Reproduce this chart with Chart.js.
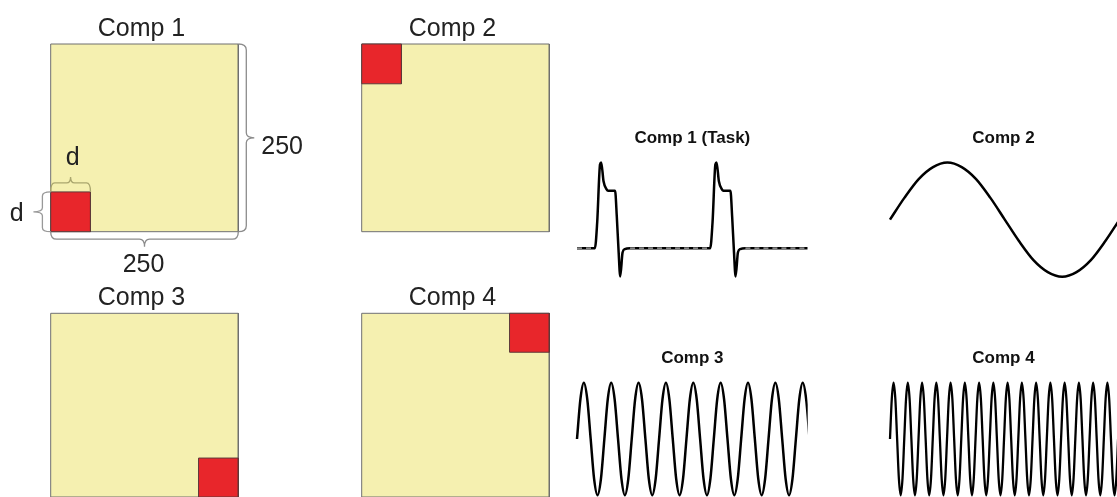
<!DOCTYPE html>
<html lang="en">
<head>
  <meta charset="UTF-8">
  <title>Components</title>
  <script src="https://cdn.jsdelivr.net/npm/chart.js"></script>
  <style>
    body { margin: 0; background: #fff; }
    #wrap { position: relative; width: 1117px; height: 497px; overflow: hidden; }
    #wrap canvas { position: absolute; left: 0; top: 0; }
  </style>
</head>
<body>
  <div id="wrap"></div>

  <script>
    // ---- data ----
    const squareSize = 250;
    const patchSize = 53; // d
    const squareTitles = ['Comp 1', 'Comp 2', 'Comp 3', 'Comp 4'];
    const patchX = [0, 0, 197, 197];
    const patchY = [0, 197, 0, 197];

    const waveTitles = ['Comp 1 (Task)', 'Comp 2', 'Comp 3', 'Comp 4'];

    // task time course (seconds, relative amplitude)
    const taskTime = [0, 15.5, 17.5, 20, 21, 23, 25.5, 27, 33, 34.5, 36, 37.5, 39.5, 41.5, 46,
                      115.5, 117.5, 120, 121, 123, 125.5, 127, 133, 134.5, 136, 137.5, 139.5, 141.5, 146, 200];
    const taskValue = [0, 0, 0.3, 0.98, 1, 0.78, 0.69, 0.67, 0.67, 0.37, -0.02, -0.33, -0.05, -0.01, 0,
                       0, 0.3, 0.98, 1, 0.78, 0.69, 0.67, 0.67, 0.37, -0.02, -0.33, -0.05, -0.01, 0, 0];
    // dashed rest level
    const restTime = [0, 15.5, 15.5, 46, 115.5, 115.5, 146, 200];
    const restValue = [0, 0, null, 0, 0, null, 0, 0];

    const comp2Step = 12.64;
    const comp2Value = [0, 0.38, 0.71, 0.92, 1, 0.92, 0.71, 0.38, 0, -0.38, -0.71, -0.92, -1, -0.92, -0.71, -0.38, 0];

    const comp3Step = 2.965;
    const comp3Value = [
      0, 0.71, 1, 0.71, 0, -0.71, -1, -0.71,
      0, 0.71, 1, 0.71, 0, -0.71, -1, -0.71,
      0, 0.71, 1, 0.71, 0, -0.71, -1, -0.71,
      0, 0.71, 1, 0.71, 0, -0.71, -1, -0.71,
      0, 0.71, 1, 0.71, 0, -0.71, -1, -0.71,
      0, 0.71, 1, 0.71, 0, -0.71, -1, -0.71,
      0, 0.71, 1, 0.71, 0, -0.71, -1, -0.71,
      0, 0.71, 1, 0.71, 0, -0.71, -1, -0.71,
      0, 0.71, 1, 0.71, 0
    ];

    const comp4Step = 1.57;
    const comp4Value = [
      0, 0.71, 1, 0.71, 0, -0.71, -1, -0.71,
      0, 0.71, 1, 0.71, 0, -0.71, -1, -0.71,
      0, 0.71, 1, 0.71, 0, -0.71, -1, -0.71,
      0, 0.71, 1, 0.71, 0, -0.71, -1, -0.71,
      0, 0.71, 1, 0.71, 0, -0.71, -1, -0.71,
      0, 0.71, 1, 0.71, 0, -0.71, -1, -0.71,
      0, 0.71, 1, 0.71, 0, -0.71, -1, -0.71,
      0, 0.71, 1, 0.71, 0, -0.71, -1, -0.71,
      0, 0.71, 1, 0.71, 0, -0.71, -1, -0.71,
      0, 0.71, 1, 0.71, 0, -0.71, -1, -0.71,
      0, 0.71, 1, 0.71, 0, -0.71, -1, -0.71,
      0, 0.71, 1, 0.71, 0, -0.71, -1, -0.71,
      0, 0.71, 1, 0.71, 0, -0.71, -1, -0.71,
      0, 0.71, 1, 0.71, 0, -0.71, -1, -0.71,
      0, 0.71, 1, 0.71, 0, -0.71, -1, -0.71,
      0, 0.71, 1, 0.71, 0, -0.71, -1, -0.71,
      0
    ];

    // ---- layout ----
    const W = 1117, H = 497;
    const FONT = '"Liberation Sans", Arial, Helvetica, sans-serif';
    const squareBoxes = [[50.7, 44, 238.3, 231.7], [361.7, 44, 549.3, 231.7],
                         [50.7, 313.3, 238.3, 501], [361.7, 313.3, 549.3, 501]];
    const waveBoxes = [[577, 162.5, 807.7, 276.7], [890, 162.5, 1120.7, 276.7],
                       [577, 382.7, 807.7, 495.3], [890, 382.7, 1120.7, 495.3]];

    const wrap = document.getElementById('wrap');

    function makeCanvas() {
      const c = document.createElement('canvas');
      c.width = W;
      c.height = H;
      wrap.appendChild(c);
      return c;
    }

    function padFor(box) {
      return { left: box[0], top: box[1], right: W - box[2], bottom: H - box[3] };
    }

    const titlePlugin = {
      id: 'panelTitle',
      afterDraw(chart, args, opts) {
        const a = chart.chartArea;
        const ctx = chart.ctx;
        ctx.save();
        ctx.font = opts.fontCss;
        ctx.fillStyle = opts.color;
        ctx.textAlign = 'center';
        ctx.textBaseline = 'alphabetic';
        ctx.fillText(opts.text, (a.left + a.right) / 2 + opts.dx, a.top - opts.dy);
        ctx.restore();
      }
    };

    // curly brace from (x1,y1) to (x2,y2), bulging along normal (nx,ny)
    function brace(ctx, x1, y1, x2, y2, nx, ny, h, tip, r, rt, color) {
      const L = Math.hypot(x2 - x1, y2 - y1);
      const tx = (x2 - x1) / L, ty = (y2 - y1) / L;
      const mx = (x1 + x2) / 2, my = (y1 + y2) / 2;
      const P = (bx, by, a, b) => [bx + tx * a + nx * b, by + ty * a + ny * b];
      ctx.save();
      ctx.strokeStyle = color;
      ctx.lineWidth = 1.3;
      ctx.beginPath();
      ctx.moveTo(x1, y1);
      let c = P(x1, y1, 0, h), e = P(x1, y1, r, h);
      ctx.quadraticCurveTo(c[0], c[1], e[0], e[1]);
      e = P(mx, my, -rt, h); ctx.lineTo(e[0], e[1]);
      c = P(mx, my, 0, h); e = P(mx, my, 0, h + tip);
      ctx.quadraticCurveTo(c[0], c[1], e[0], e[1]);
      e = P(mx, my, rt, h);
      ctx.quadraticCurveTo(c[0], c[1], e[0], e[1]);
      e = P(x2, y2, -r, h); ctx.lineTo(e[0], e[1]);
      c = P(x2, y2, 0, h);
      ctx.quadraticCurveTo(c[0], c[1], x2, y2);
      ctx.stroke();
      ctx.restore();
    }

    const bracePlugin = {
      id: 'sizeBraces',
      afterDraw(chart) {
        const ctx = chart.ctx;
        const xs = chart.scales.x, ys = chart.scales.y;
        const x0 = xs.getPixelForValue(0), x1 = xs.getPixelForValue(squareSize);
        const y0 = ys.getPixelForValue(0), y1 = ys.getPixelForValue(squareSize);
        const xd = xs.getPixelForValue(patchSize), yd = ys.getPixelForValue(patchSize);

        brace(ctx, x1, y1, x1, y0, 1, 0, 8, 8, 6, 5, '#8c8c8c');
        brace(ctx, x0, y0, x1, y0, 0, 1, 7.5, 7.5, 6, 5, '#8c8c8c');
        brace(ctx, x0, yd, xd, yd, 0, -1, 9, 6, 4, 4, '#aaa66e');
        brace(ctx, x0, yd, x0, y0, -1, 0, 8.3, 9, 4, 4, '#999999');

        ctx.save();
        ctx.fillStyle = '#222';
        ctx.font = '25px ' + FONT;
        ctx.textBaseline = 'alphabetic';
        ctx.textAlign = 'left';
        ctx.fillText(String(squareSize), x1 + 23, (y0 + y1) / 2 + 16);
        ctx.textAlign = 'center';
        ctx.fillText(String(squareSize), (x0 + x1) / 2 - 1, y0 + 40);
        ctx.fillText('d', (x0 + xd) / 2 + 2, yd - 27);
        ctx.fillText('d', x0 - 34, (yd + y0) / 2 + 9);
        ctx.restore();
      }
    };

    const hidden = { type: 'linear', display: false };
    const yellow = '#f5f0b0', red = '#e8262b';

    // ---- square panels ----
    squareTitles.forEach((title, i) => {
      const px = patchX[i], py = patchY[i], d = patchSize, S = squareSize;
      const plugins = [titlePlugin];
      if (i === 0) plugins.push(bracePlugin);
      new Chart(makeCanvas(), {
        type: 'scatter',
        data: {
          datasets: [
            { data: [{ x: 0, y: S }, { x: S, y: S }], fill: { value: 0 },
              backgroundColor: yellow, borderColor: 'rgba(0,0,0,0)', borderWidth: 0, order: 4 },
            { data: [{ x: 0, y: 0 }, { x: 0, y: S }, { x: S, y: S }, { x: S, y: 0 }, { x: 0, y: 0 }],
              borderColor: '#6e6e6e', borderWidth: 1, fill: false, order: 3 },
            { data: [{ x: px, y: py + d }, { x: px + d, y: py + d }], fill: { value: py },
              backgroundColor: red, borderColor: 'rgba(0,0,0,0)', borderWidth: 0, order: 2 },
            { data: [{ x: px, y: py }, { x: px, y: py + d }, { x: px + d, y: py + d }, { x: px + d, y: py }, { x: px, y: py }],
              borderColor: '#5e3a3a', borderWidth: 1, fill: false, order: 1 }
          ].map(ds => Object.assign({ showLine: true, pointRadius: 0, tension: 0, clip: 2 }, ds))
        },
        options: {
          responsive: false,
          animation: false,
          events: [],
          layout: { padding: padFor(squareBoxes[i]) },
          scales: { x: Object.assign({ min: 0, max: S }, hidden), y: Object.assign({ min: 0, max: S }, hidden) },
          plugins: {
            legend: { display: false },
            tooltip: { enabled: false },
            panelTitle: { text: title, fontCss: '25px ' + FONT, color: '#222', dx: -3, dy: 8.5 }
          }
        },
        plugins: plugins
      });
    });

    // ---- time courses ----
    const toPoints = (values, step) => values.map((v, i) => ({ x: i * step, y: v }));
    const zip = (xs, ys) => xs.map((x, i) => ({ x: x, y: ys[i] }));

    const waveSets = [
      [
        { data: zip(restTime, restValue), borderColor: '#b4b4b4', borderWidth: 1.4, borderDash: [5, 4], order: 0 },
        { data: zip(taskTime, taskValue), borderColor: '#000', borderWidth: 2.5, order: 1 }
      ],
      [{ data: toPoints(comp2Value, comp2Step), borderColor: '#000', borderWidth: 2.5 }],
      [{ data: toPoints(comp3Value, comp3Step), borderColor: '#000', borderWidth: 2.5 }],
      [{ data: toPoints(comp4Value, comp4Step), borderColor: '#000', borderWidth: 2.3 }]
    ];
    const waveRange = [[-0.333, 1], [-1, 1], [-1, 1], [-1, 1]];

    waveTitles.forEach((title, i) => {
      new Chart(makeCanvas(), {
        type: 'line',
        data: {
          datasets: waveSets[i].map(ds => Object.assign({
            pointRadius: 0, fill: false, cubicInterpolationMode: 'monotone',
            borderJoinStyle: 'round', spanGaps: false,
            clip: { left: 2, right: 0, top: 3, bottom: 3 }
          }, ds))
        },
        options: {
          responsive: false,
          animation: false,
          events: [],
          layout: { padding: padFor(waveBoxes[i]) },
          scales: {
            x: Object.assign({ min: 0, max: 200 }, hidden),
            y: Object.assign({ min: waveRange[i][0], max: waveRange[i][1] }, hidden)
          },
          plugins: {
            legend: { display: false },
            tooltip: { enabled: false },
            panelTitle: { text: title, fontCss: 'bold 17px ' + FONT, color: '#111', dx: 0, dy: 20 }
          }
        },
        plugins: [titlePlugin]
      });
    });
  </script>
</body>
</html>
